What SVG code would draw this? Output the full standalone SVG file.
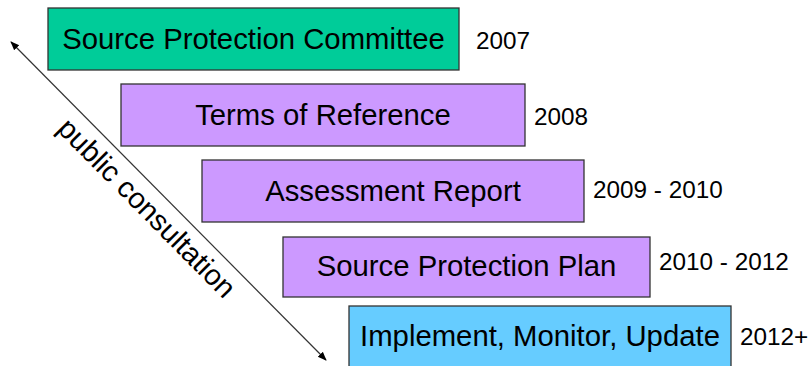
<svg xmlns="http://www.w3.org/2000/svg" width="810" height="366" viewBox="0 0 810 366">
<defs>
<style>
.box{stroke:#333;stroke-width:1.3}
.lbl{font-family:"Liberation Sans",Arial,sans-serif;font-size:29.3px;fill:#000;text-anchor:middle}
.yr{font-family:"Liberation Sans",Arial,sans-serif;font-size:24.3px;fill:#000}
</style>
<marker id="ah" viewBox="0 0 10 10" refX="9" refY="5" markerWidth="9" markerHeight="9" markerUnits="userSpaceOnUse" orient="auto-start-reverse">
<path d="M0,1 L10,5 L0,9 Z" fill="#000"/>
</marker>
</defs>
<rect width="810" height="366" fill="#fff"/>
<g id="connectors">
<line x1="11" y1="42" x2="326" y2="360" stroke="#333" stroke-width="1.2" marker-start="url(#ah)" marker-end="url(#ah)"/>
<text transform="translate(56,130) rotate(45.3)" font-family="'Liberation Sans',Arial,sans-serif" font-size="29" fill="#000">public consultation</text>
</g>
<g id="n1">
<rect class="box" x="48" y="8" width="411" height="62" fill="#00CC99"/>
<text class="lbl" x="253.5" y="49">Source Protection Committee</text>
<text class="yr" x="476" y="49">2007</text>
</g>
<g id="n2">
<rect class="box" x="121" y="84" width="404" height="62" fill="#CC99FF"/>
<text class="lbl" x="323" y="125">Terms of Reference</text>
<text class="yr" x="534" y="125">2008</text>
</g>
<g id="n3">
<rect class="box" x="202" y="160" width="382" height="62" fill="#CC99FF"/>
<text class="lbl" x="393" y="201">Assessment Report</text>
<text class="yr" x="593" y="198">2009 - 2010</text>
</g>
<g id="n4">
<rect class="box" x="283" y="237" width="367" height="60" fill="#CC99FF"/>
<text class="lbl" x="466.5" y="276">Source Protection Plan</text>
<text class="yr" x="659" y="270">2010 - 2012</text>
</g>
<g id="n5">
<rect class="box" x="349" y="306" width="382" height="64" fill="#66CCFF"/>
<text class="lbl" x="540" y="346">Implement, Monitor, Update</text>
<text class="yr" x="740" y="345">2012+</text>
</g>
</svg>
